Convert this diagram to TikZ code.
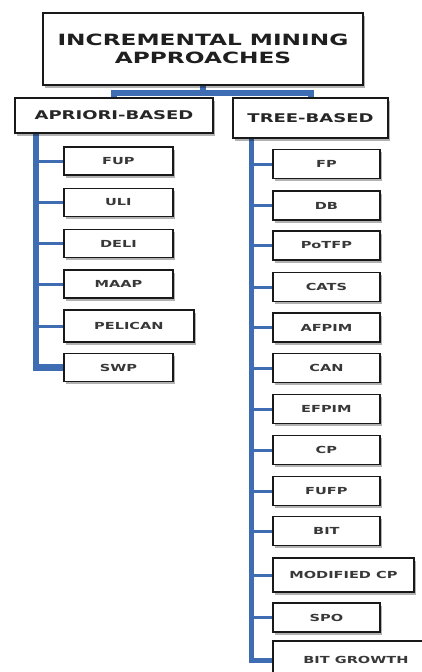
\documentclass[tikz,border=0pt]{standalone}
\usepackage{fontspec}
\setmainfont[FakeStretch=1.5]{DejaVu Sans}
\usetikzlibrary{shadows}
\definecolor{trunkblue}{HTML}{3F6DB3}
\pgfdeclarelayer{bg}
\pgfdeclarelayer{paper}
\pgfsetlayers{paper,bg,main}
\begin{document}
\begin{tikzpicture}[x=1pt,y=-1pt,
  basebox/.style={draw=black!90, line width=1.8pt, fill=white, inner sep=0pt,
    align=center, text=black!78,
    drop shadow={shadow xshift=2pt, shadow yshift=-2.5pt, fill=black, opacity=0.3}},
  titlebox/.style={basebox, text=black!88, font=\bfseries\fontsize{15.5}{18}\selectfont},
  midbox/.style={basebox, text=black!85, font=\bfseries\fontsize{12}{14}\selectfont},
  leafbox/.style={basebox, anchor=west, font=\bfseries\fontsize{9.7}{11}\selectfont},
  lbox/.style={leafbox, minimum width=109pt, minimum height=28pt},
  rbox/.style={leafbox, minimum width=107pt, minimum height=29pt},
  conn/.style={draw=trunkblue, line width=6pt},
  trunkL/.style={draw=trunkblue, line width=6.5pt},
  trunkR/.style={draw=trunkblue, line width=5pt},
  stub/.style={draw=trunkblue, line width=3pt}
]
\useasboundingbox (0,0) rectangle (422,672);
\clip (0,0) rectangle (422,672);
\begin{pgfonlayer}{paper}
  \fill[white] (0,0) rectangle (422,672);
\end{pgfonlayer}

\node[titlebox, minimum width=320pt, minimum height=72pt] (root) at (203,49) {INCREMENTAL MINING\\APPROACHES};
\node[midbox, minimum width=198pt, minimum height=35pt] (apriori) at (114,115.5) {APRIORI-BASED};
\node[midbox, minimum width=155pt, minimum height=40pt] (tree) at (310.5,118) {TREE-BASED};

% left children
\node[lbox] (fup) at (63,161) {FUP};
\node[lbox] (uli) at (63,202.5) {ULI};
\node[lbox] (deli) at (63,243.5) {DELI};
\node[lbox] (maap) at (63,284) {MAAP};
\node[lbox, minimum width=130pt, minimum height=32pt] (pelican) at (63,326) {PELICAN};
\node[lbox] (swp) at (63,367.5) {SWP};

% right children
\node[rbox] (fp) at (272,164) {FP};
\node[rbox] (db) at (272,205.5) {DB};
\node[rbox] (potfp) at (272,245.5) {PoTFP};
\node[rbox] (cats) at (272,287) {CATS};
\node[rbox] (afpim) at (272,327.5) {AFPIM};
\node[rbox] (can) at (272,368) {CAN};
\node[rbox] (efpim) at (272,409) {EFPIM};
\node[rbox] (cp) at (272,450) {CP};
\node[rbox] (fufp) at (272,491) {FUFP};
\node[rbox] (bit) at (272,531) {BIT};
\node[rbox, minimum width=141pt, minimum height=34pt] (modcp) at (272,575) {MODIFIED CP};
\node[rbox] (spo) at (272,617.5) {SPO};
\node[rbox, minimum width=166pt, minimum height=38pt] (bitg) at (272,660) {BIT GROWTH};

\begin{pgfonlayer}{bg}
  \draw[conn] (root.south) -- ++(0,7) coordinate (hub) -| (apriori.north);
  \draw[conn] (hub) -| (tree.north);
  \coordinate (lt) at ([xshift=22pt]apriori.south west);
  \coordinate (rt) at ([xshift=19pt]tree.south west);
  \draw[trunkL] (lt) |- (swp.west);
  \foreach \n in {fup,uli,deli,maap,pelican}
    \draw[stub] (lt |- \n.west) -- (\n.west);
  \draw[trunkR] (rt) |- (bitg.west);
  \foreach \n in {fp,db,potfp,cats,afpim,can,efpim,cp,fufp,bit,modcp,spo}
    \draw[stub] (rt |- \n.west) -- (\n.west);
\end{pgfonlayer}
\end{tikzpicture}
\end{document}
